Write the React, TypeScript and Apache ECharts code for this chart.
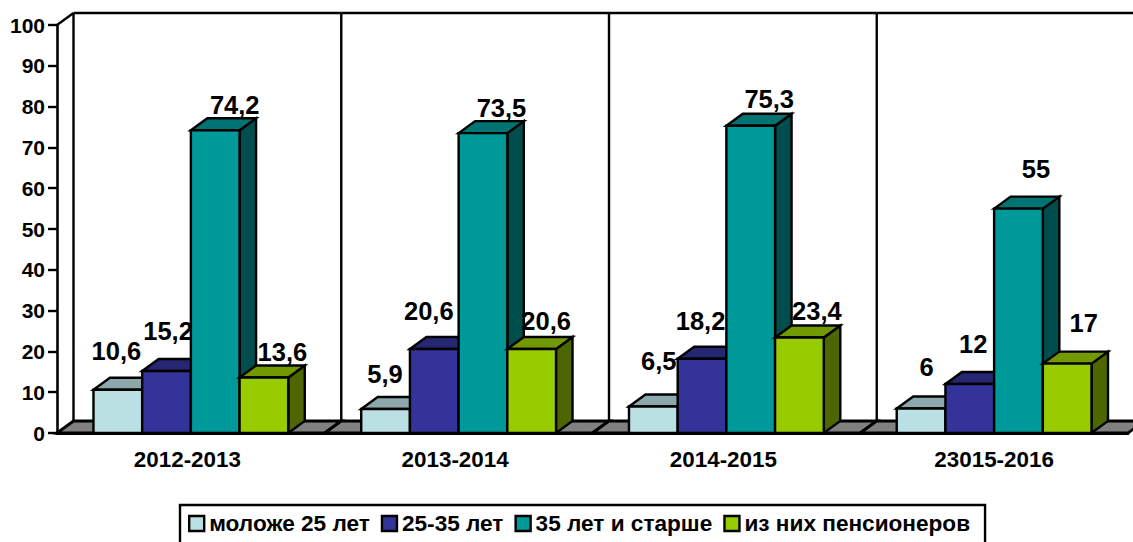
import React, { useEffect, useRef } from "react";
import * as echarts from "echarts";

const categories = ["2012-2013", "2013-2014", "2014-2015", "23015-2016"];
const seriesNames = ["моложе 25 лет", "25-35 лет", "35 лет и старше", "из них пенсионеров"];
const under25 = [10.6, 5.9, 6.5, 6];
const from25to35 = [15.2, 20.6, 18.2, 12];
const over35 = [74.2, 73.5, 75.3, 55];
const pensioners = [13.6, 20.6, 23.4, 17];
const seriesValues = [under25, from25to35, over35, pensioners];
const yTicks = { min: 0, max: 100, interval: 10 };

const frontColors = ["#BBE0E3", "#333399", "#009999", "#99CC00"];
const topColors = ["#8CA8AA", "#262673", "#007373", "#739900"];
const sideColors = ["#5E7072", "#1A1A4D", "#004D4D", "#4D6600"];

// Hand-placed label offsets of the original (px from the front-top centre of each bar)
const labelOffsets = [
  [[-1.5, -38.5], [-0.5, -34.5], [5.5, -45], [5.5, -42]],
  [[1.5, -39.5], [-5.5, -37.5], [-1.5, -37.5], [3.5, -40.5]],
  [[19.5, -25], [18.5, -25], [18.5, -27], [17.5, -40]],
  [[18.5, -25.5], [14.5, -27.5], [17.5, -27], [16.5, -40.5]],
];
// The original's category labels sit slightly left of centre
const categoryPadRight = [7, 7, 6, 0];

const DX = 16.5;
const DY = 12;
const FONT = '"Liberation Sans", Arial, sans-serif';
const lineStyle = { stroke: "#000", lineWidth: 2.4 };
const floorLine = { stroke: "#000", lineWidth: 2.8 };

function wallsItem(params: any, api: any) {
  const i = api.value(0);
  const size = api.size([1, 0])[0];
  const [cx, y0] = api.coord([i, 0]);
  const [, y100] = api.coord([i, 100]);
  const xl = cx - size / 2;
  const xr = cx + size / 2;
  const children: any[] = [
    {
      type: "polygon",
      shape: { points: [[xl, y0], [xl + DX, y0 - DY], [xr + DX, y0 - DY], [xr, y0]] },
      style: { fill: "#808080", ...floorLine },
    },
    {
      type: "line",
      shape: { x1: xl + DX, y1: y0 - DY, x2: xl + DX, y2: y100 - DY },
      style: lineStyle,
    },
    {
      type: "line",
      shape: { x1: xl + DX, y1: y100 - DY, x2: xr + DX, y2: y100 - DY },
      style: lineStyle,
    },
  ];
  if (i === 0) {
    children.push({
      type: "line",
      shape: { x1: xl, y1: y100, x2: xl + DX, y2: y100 - DY },
      style: lineStyle,
    });
  }
  return { type: "group", children };
}

function barItem(s: number) {
  return (params: any, api: any) => {
    const i = api.value(0);
    const v = api.value(1);
    const size = api.size([1, 0])[0];
    const w = size / (4 + 2 * 0.749);
    const [cx, y0] = api.coord([i, 0]);
    const [, yv] = api.coord([i, v]);
    const x = cx - 2 * w + s * w;
    const off = labelOffsets[s][i];
    return {
      type: "group",
      children: [
        {
          type: "polygon",
          shape: { points: [[x + w, y0], [x + w + DX, y0 - DY], [x + w + DX, yv - DY], [x + w, yv]] },
          style: { fill: sideColors[s], ...lineStyle },
        },
        {
          type: "polygon",
          shape: { points: [[x, yv], [x + DX, yv - DY], [x + w + DX, yv - DY], [x + w, yv]] },
          style: { fill: topColors[s], ...lineStyle },
        },
        {
          type: "rect",
          shape: { x, y: yv, width: w, height: y0 - yv },
          style: { fill: frontColors[s], ...lineStyle },
        },
        {
          type: "text",
          x: x + w / 2 + off[0],
          y: yv + off[1],
          style: {
            text: String(v).replace(".", ","),
            fill: "#000",
            font: `bold 25.5px ${FONT}`,
            align: "center",
            verticalAlign: "middle",
          },
        },
      ],
    };
  };
}

export default function App() {
  const ref = useRef<HTMLDivElement>(null);
  useEffect(() => {
    document.body.style.margin = "0";
    const chart = echarts.init(ref.current!, null, { renderer: "svg" });
    chart.setOption({
      animation: false,
      backgroundColor: "#fff",
      grid: { left: 57, right: 5, top: 25, height: 408 },
      xAxis: {
        type: "category",
        data: categories.map((value, i) => ({
          value,
          textStyle: { padding: [0, categoryPadRight[i], 0, 0] },
        })),
        axisLine: { lineStyle: { color: "#000", width: 3 } },
        axisTick: { length: 7, lineStyle: { color: "#000", width: 2.4 } },
        axisLabel: { color: "#000", fontFamily: FONT, fontWeight: "bold", fontSize: 22.4, margin: 15 },
        z: 5,
      },
      yAxis: {
        type: "value",
        min: yTicks.min,
        max: yTicks.max,
        interval: yTicks.interval,
        splitLine: { show: false },
        axisLine: { show: true, lineStyle: { color: "#000", width: 2.6 } },
        axisTick: { show: true, length: 9, lineStyle: { color: "#000", width: 2.4 } },
        axisLabel: { color: "#000", fontFamily: FONT, fontWeight: "bold", fontSize: 21, margin: 12 },
        z: 5,
      },
      legend: {
        left: 180,
        top: 505,
        orient: "horizontal",
        padding: [7, 15, 11, 8],
        itemGap: 11,
        itemWidth: 15,
        itemHeight: 15,
        borderColor: "#000",
        borderWidth: 2.4,
        textStyle: { color: "#000", fontFamily: FONT, fontWeight: "bold", fontSize: 22.6 },
        data: seriesNames.map((name, s) => ({
          name,
          icon: "rect",
          itemStyle: { color: frontColors[s], borderColor: "#000", borderWidth: 2.4 },
        })),
      },
      series: [
        {
          type: "custom",
          name: "стены",
          silent: true,
          renderItem: wallsItem,
          encode: { x: 0, y: 1 },
          data: categories.map((_, i) => [i, 0]),
          z: 1,
        },
        ...seriesNames.map((name, s) => ({
          type: "custom",
          name,
          renderItem: barItem(s),
          encode: { x: 0, y: 1 },
          itemStyle: { color: frontColors[s] },
          data: seriesValues[s].map((v, i) => [i, v]),
          z: 2,
        })),
      ],
    });
    return () => chart.dispose();
  }, []);
  return (
    <div
      ref={ref}
      style={{ position: "absolute", left: 0, top: 0, width: 1133, height: 542, overflow: "hidden" }}
    />
  );
}
